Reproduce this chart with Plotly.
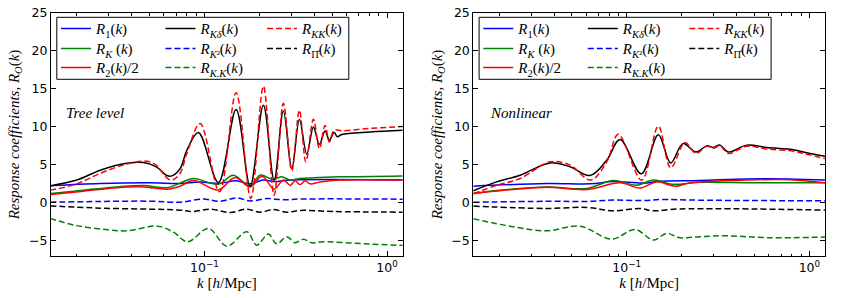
import plotly.graph_objects as go

# ---------------- data ----------------
# Tree level panel
k_tree_R1 = [0.0143, 0.0269, 0.0504, 0.0736, 0.0947, 0.119, 0.149, 0.178, 0.21, 0.24, 0.295, 1.219]
tree_R1 = [2.24, 2.54, 2.63, 2.54, 2.76, 2.55, 2.9, 2.5, 3.0, 2.8, 3.0, 3.0]

k_tree_RK = [0.0143, 0.0218, 0.0332, 0.0464, 0.0622, 0.0736, 0.087, 0.119, 0.144, 0.1779, 0.2018, 0.2385, 0.2652, 0.2945, 0.334, 0.394, 0.55, 1.219]
tree_RK = [1.23, 1.67, 2.1, 2.28, 2.0, 2.6, 3.2, 2.45, 3.64, 2.2, 3.64, 3.07, 3.42, 3.0, 3.2, 3.3, 3.42, 3.55]

k_tree_R2 = [0.0143, 0.0218, 0.0332, 0.0464, 0.0622, 0.0736, 0.087, 0.1193, 0.147, 0.1779, 0.207, 0.2407, 0.2706, 0.295, 0.314, 0.334, 0.356, 0.379, 0.43, 0.55, 1.219]
tree_R2 = [1.1, 1.54, 2.0, 2.1, 1.8, 2.2, 2.95, 1.7, 3.34, 2.1, 3.5, 1.8, 3.0, 2.3, 2.9, 2.4, 2.9, 2.5, 2.75, 3.0, 3.0]

k_tree_RKd = [0.0143, 0.0200, 0.0269, 0.0376, 0.0464, 0.0548, 0.0622, 0.0663, 0.0736, 0.0801, 0.0927, 0.1193, 0.1491, 0.1779, 0.2103, 0.2407, 0.2706, 0.3009, 0.3311, 0.3635, 0.3951, 0.4259, 0.4576, 0.4832, 0.5128, 0.5346, 0.565, 0.807, 1.219]
tree_RKd = [2.24, 3.0, 4.3, 5.2, 5.3, 4.7, 3.6, 3.55, 4.5, 6.9, 9.26, 2.68, 12.29, 2.2, 12.86, 2.99, 12.1, 4.52, 10.97, 6.4, 10.0, 7.7, 9.47, 8.25, 9.26, 8.7, 9.0, 9.34, 9.56]

k_tree_RK2 = [0.0143, 0.0269, 0.0504, 0.0736, 0.0988, 0.1219, 0.1504, 0.178, 0.2197, 0.27, 0.334, 1.219]
tree_RK2 = [0.09, 0.18, 0.22, 0.09, 0.5, 0.2, 0.66, 0.25, 0.57, 0.4, 0.5, 0.48]

k_tree_RKdotK = [0.0143, 0.0200, 0.0297, 0.038, 0.0555, 0.068, 0.081, 0.1052, 0.1326, 0.1706, 0.1935, 0.2239, 0.2489, 0.2825, 0.3135, 0.3482, 0.3871, 0.4465, 0.808, 1.219]
tree_RKdotK = [-2.06, -3.0, -3.55, -3.68, -3.07, -3.9, -5.13, -3.37, -5.7, -3.82, -5.57, -4.1, -5.4, -4.47, -5.26, -4.78, -5.26, -5.13, -5.43, -5.6]

k_tree_RKK = [0.0143, 0.0200, 0.0269, 0.0376, 0.0484, 0.0548, 0.0622, 0.0663, 0.0736, 0.0801, 0.0947, 0.1208, 0.1491, 0.1795, 0.2103, 0.2407, 0.2706, 0.3009, 0.3311, 0.3593, 0.3951, 0.4259, 0.4576, 0.4832, 0.5128, 0.57, 0.807, 1.219]
tree_RKK = [1.67, 2.5, 3.9, 5.1, 5.48, 4.9, 3.3, 2.98, 3.9, 6.5, 10.45, 1.45, 14.5, 0.58, 15.35, 1.0, 13.1, 4.2, 12.2, 5.4, 11.0, 7.15, 10.2, 8.0, 9.56, 9.5, 9.8, 10.05]

k_tree_RPi = [0.0143, 0.0269, 0.0504, 0.0736, 0.0866, 0.1074, 0.1383, 0.1706, 0.2018, 0.2388, 0.2823, 0.334, 0.5084, 1.219]
tree_RPi = [-0.4, -0.7, -0.83, -0.96, -1.14, -0.83, -1.27, -0.83, -1.23, -0.88, -1.23, -1.0, -1.14, -1.23]

# Nonlinear panel
k_nl_R1 = [0.01446, 0.0365, 0.063, 0.0845, 0.1233, 0.152, 0.252, 0.4537, 0.783, 1.217]
nl_R1 = [2.2, 2.55, 2.5, 2.8, 2.6, 2.85, 2.95, 3.15, 3.15, 3.0]

k_nl_RK = [0.01446, 0.0202, 0.0365, 0.0604, 0.0845, 0.1134, 0.1398, 0.1763, 0.252, 0.50, 1.217]
nl_RK = [1.2, 1.65, 2.1, 1.9, 2.95, 2.33, 3.0, 2.46, 2.7, 2.65, 2.65]

k_nl_R2 = [0.01446, 0.0202, 0.0365, 0.0604, 0.0919, 0.1183, 0.146, 0.1838, 0.222, 0.4537, 0.783, 1.217]
nl_R2 = [1.25, 1.6, 2.05, 1.75, 2.63, 1.95, 2.76, 2.2, 2.63, 3.0, 3.05, 2.63]

k_nl_RKd = [0.01446, 0.0194, 0.0261, 0.0380, 0.0490, 0.0630, 0.0777, 0.0919, 0.1202, 0.1489, 0.1741, 0.2033, 0.2394, 0.2741, 0.2979, 0.3241, 0.3598, 0.4537, 0.584, 0.8164, 0.9665, 1.217]
nl_RKd = [1.6, 2.76, 3.64, 5.26, 4.74, 3.6, 5.6, 8.34, 3.82, 8.97, 5.26, 7.8, 6.7, 7.5, 7.3, 7.6, 6.7, 7.6, 7.3, 7.0, 6.6, 6.14]

k_nl_RK2 = [0.01446, 0.0365, 0.063, 0.0845, 0.1233, 0.152, 0.252, 1.217]
nl_RK2 = [0.08, 0.2, 0.2, 0.36, 0.3, 0.44, 0.35, 0.27]

k_nl_RKdotK = [0.01446, 0.0239, 0.0365, 0.0555, 0.0828, 0.111, 0.1398, 0.1655, 0.1957, 0.252, 0.3522, 0.6083, 1.217]
nl_RKdotK = [-2.1, -3.15, -3.68, -3.07, -4.78, -3.5, -4.9, -4.03, -4.6, -4.45, -4.34, -4.6, -4.5]

k_nl_RKK = [0.01446, 0.0194, 0.0261, 0.0380, 0.0490, 0.0635, 0.0777, 0.0899, 0.1208, 0.1489, 0.1741, 0.2085, 0.2394, 0.2741, 0.2979, 0.3241, 0.3598, 0.4537, 0.584, 0.8164, 0.9665, 1.217]
nl_RKK = [1.2, 2.3, 3.2, 5.4, 4.96, 3.0, 5.4, 9.04, 2.99, 10.1, 4.6, 7.95, 6.5, 7.45, 7.2, 7.5, 6.5, 7.45, 7.1, 6.8, 6.4, 5.83]

k_nl_RPi = [0.01446, 0.0365, 0.0604, 0.0845, 0.1183, 0.1398, 0.196, 1.217]
nl_RPi = [-0.43, -0.74, -0.6, -1.05, -0.75, -1.05, -0.8, -0.95]

labels = [
    "<i>R</i><sub>1</sub>(<i>k</i>)",
    "<i>R</i><sub><i>K</i></sub> (<i>k</i>)",
    "<i>R</i><sub>2</sub>(<i>k</i>)/2",
    "<i>R</i><sub><i>Kδ</i></sub>(<i>k</i>)",
    "<i>R</i><sub><i>K</i>²</sub>(<i>k</i>)",
    "<i>R</i><sub><i>K.K</i></sub>(<i>k</i>)",
    "<i>R</i><sub><i>KK</i></sub>(<i>k</i>)",
    "<i>R</i><sub>Π̂</sub>(<i>k</i>)",
]
colors = ["blue", "green", "red", "black", "blue", "green", "red", "black"]
dashes = ["solid", "solid", "solid", "solid", "6px,3px", "6px,3px", "6px,3px", "6px,3px"]
entry_col = [0, 0, 0, 1, 1, 1, 2, 2]
entry_row = [0, 1, 2, 0, 1, 2, 0, 1]

tree_series = [(k_tree_R1, tree_R1), (k_tree_RK, tree_RK), (k_tree_R2, tree_R2),
               (k_tree_RKd, tree_RKd), (k_tree_RK2, tree_RK2), (k_tree_RKdotK, tree_RKdotK),
               (k_tree_RKK, tree_RKK), (k_tree_RPi, tree_RPi)]
nl_series = [(k_nl_R1, nl_R1), (k_nl_RK, nl_RK), (k_nl_R2, nl_R2),
             (k_nl_RKd, nl_RKd), (k_nl_RK2, nl_RK2), (k_nl_RKdotK, nl_RKdotK),
             (k_nl_RKK, nl_RKK), (k_nl_RPi, nl_RPi)]

# ---------------- layout geometry (pixel positions in the window) ----------------
W, H = 843, 298
ML, MR, MT, MB = 51, 18, 13, 42
PW, PH = W - ML - MR, H - MT - MB


def px_x(p):
    return (p - ML) / PW


def px_y(p):
    return 1 - (p - MT) / PH


fig = go.Figure()

axis_lefts = [ML, 473.3]
col_text_offsets = [45, 149.5, 251]
row_centers = [29.3, 49.3, 68.3]
leg_font = dict(family="Liberation Serif", size=15, color="black")

n = 0
for panel, series in enumerate([tree_series, nl_series]):
    xa = "x" if panel == 0 else "x2"
    ya = "y" if panel == 0 else "y2"
    for i, (kk, vv) in enumerate(series):
        n += 1
        lid = "legend" if n == 1 else "legend%d" % n
        fig.add_trace(go.Scatter(
            x=kk, y=vv, mode="lines", name=labels[i],
            line=dict(color=colors[i], width=1.5, dash=dashes[i], shape="spline", smoothing=1.0),
            xaxis=xa, yaxis=ya, legend=lid,
        ))
        text_px = axis_lefts[panel] + col_text_offsets[entry_col[i]]
        fig.update_layout({lid: dict(
            x=px_x(text_px - 40), y=px_y(row_centers[entry_row[i]] - 0.5),
            xanchor="left", yanchor="middle", orientation="v",
            bgcolor="rgba(0,0,0,0)", borderwidth=0, font=leg_font, itemwidth=30,
        )})

minor_vals = [0.02, 0.03, 0.04, 0.05, 0.06, 0.07, 0.08, 0.09, 0.2, 0.3, 0.4, 0.5, 0.6, 0.7, 0.8, 0.9]
tick_font = dict(family="DejaVu Sans", size=12.5, color="black")
title_font = dict(family="Liberation Serif", size=15, color="black")

xcommon = dict(
    type="log", range=[-1.840, 0.0856],
    tickvals=[0.1, 1], ticktext=["10<sup>−1</sup>", "10<sup>0</sup>"],
    ticks="inside", ticklen=5, tickcolor="black", tickwidth=1,
    minor=dict(tickvals=minor_vals, ticks="inside", ticklen=2.5, tickcolor="black", tickwidth=1, showgrid=False),
    showline=True, linecolor="black", linewidth=1, mirror="ticks",
    showgrid=False, zeroline=False, tickfont=tick_font,
    title=dict(text="<i>k</i> [<i>h</i>/Mpc]", font=title_font, standoff=0),
)
ycommon = dict(
    range=[-7, 25], tickvals=[-5, 0, 5, 10, 15, 20, 25],
    ticks="inside", ticklen=5, tickcolor="black", tickwidth=1,
    showline=True, linecolor="black", linewidth=1, mirror="ticks",
    showgrid=False, zeroline=False, tickfont=tick_font,
    title=dict(text="<i>Response coefficients, R</i><sub><i>O</i></sub>(<i>k</i>)", font=title_font, standoff=5),
)

fig.update_layout(
    xaxis=dict(domain=[0, px_x(402.7)], anchor="y", **xcommon),
    yaxis=dict(domain=[0, 1], anchor="x", **ycommon),
    xaxis2=dict(domain=[px_x(473.3), 1], anchor="y2", **xcommon),
    yaxis2=dict(domain=[0, 1], anchor="x2", **ycommon),
)

# legend frames, in each panel's own domain coordinates
panel_refs = [("x domain", "y domain", ML, 402.7), ("x2 domain", "y2 domain", 473.3, 825)]
for xr, yr, a0, a1 in panel_refs:
    fig.add_shape(type="rect", xref=xr, yref=yr,
                  x0=5.8 / (a1 - a0), x1=(5.8 + 292) / (a1 - a0),
                  y0=px_y(79.3), y1=px_y(17.3),
                  line=dict(color="black", width=1), fillcolor="rgba(255,255,255,1)",
                  layer="above")

# panel labels
fig.add_annotation(text="<i>Tree level</i>", xref="paper", yref="paper",
                   x=px_x(64.3), y=px_y(112.7), xanchor="left", yanchor="middle",
                   showarrow=False, font=dict(family="Liberation Serif", size=15, color="black"))
fig.add_annotation(text="<i>Nonlinear</i>", xref="paper", yref="paper",
                   x=px_x(488.3), y=px_y(112.7), xanchor="left", yanchor="middle",
                   showarrow=False, font=dict(family="Liberation Serif", size=15, color="black"))

fig.update_layout(
    width=W, height=H,
    margin=dict(l=ML, r=MR, t=MT, b=MB, pad=0, autoexpand=False),
    paper_bgcolor="white", plot_bgcolor="white",
    showlegend=True,
)

fig.write_html("out.html", config={"displayModeBar": False},
               post_script="document.body.style.margin='0px';")
